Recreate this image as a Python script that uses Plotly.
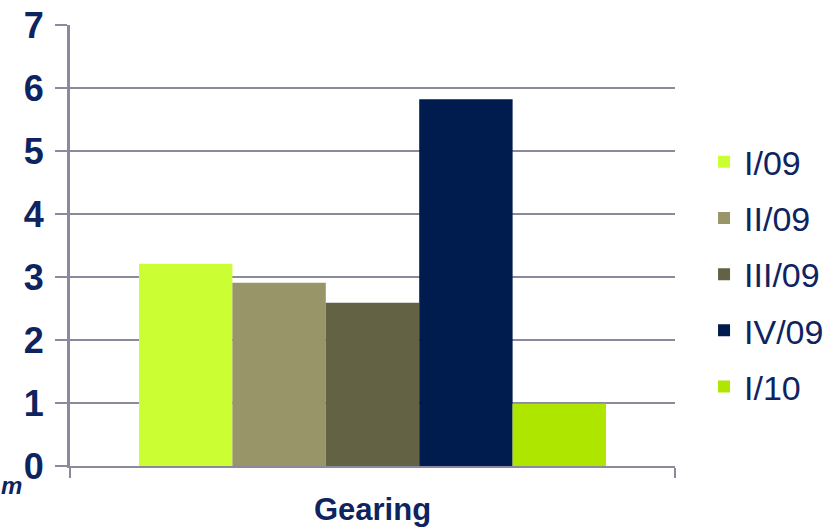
import plotly.graph_objects as go

categories = ["Gearing"]
series_names = ["I/09", "II/09", "III/09", "IV/09", "I/10"]
series_values = [[3.21], [2.91], [2.59], [5.82], [0.99]]
series_colors = ["#CCFF33", "#989668", "#636244", "#001B4D", "#AEE600"]
y_ticks = [0, 1, 2, 3, 4, 5, 6, 7]

navy = "#0D2461"
grid = "#8A8A9C"

fig = go.Figure()
for name, vals, col in zip(series_names, series_values, series_colors):
    fig.add_trace(go.Bar(
        x=categories, y=vals, name=name, marker=dict(color=col, line=dict(width=0)),
        legendgroup=name,
    ))

fig.update_layout(
    width=836, height=531,
    margin=dict(l=70, r=161, t=25, b=65, autoexpand=False),
    paper_bgcolor="white", plot_bgcolor="white",
    barmode="group", bargap=0.228, bargroupgap=0,
    font=dict(family="Liberation Sans, Arial, sans-serif", color=navy),
    legend=dict(
        x=1.048, xanchor="left", y=0.435, yanchor="middle",
        font=dict(size=34, color=navy),
        tracegroupgap=9,
        bgcolor="rgba(0,0,0,0)",
    ),
    xaxis=dict(
        showgrid=False, showline=True, linecolor=grid, linewidth=2,
        ticks="outside", tickson="boundaries", ticklen=10, tickcolor=grid, tickwidth=2,
        tickfont=dict(size=31, color=navy, family="Liberation Sans, Arial, sans-serif"),
        ticklabelstandoff=15,
        range=[-0.5, 0.5],
    ),
    yaxis=dict(
        range=[0, 7], tickvals=y_ticks, ticktext=[f"<b>{v}</b>" for v in y_ticks],
        showgrid=True, gridcolor=grid, gridwidth=2,
        showline=True, linecolor=grid, linewidth=3,
        ticks="outside", ticklen=12, tickcolor=grid, tickwidth=2,
        tickfont=dict(size=36, color=navy),
        ticklabelstandoff=4,
        zeroline=False,
    ),
    showlegend=True,
)
fig.update_xaxes(ticktext=["<b>Gearing</b>"], tickvals=["Gearing"])

fig.add_annotation(
    text="<b><i>m</i></b>", xref="paper", yref="paper", x=-0.118, y=-0.008,
    xanchor="left", yanchor="top", showarrow=False,
    font=dict(size=24, color=navy),
)

fig.write_html("out.html")
